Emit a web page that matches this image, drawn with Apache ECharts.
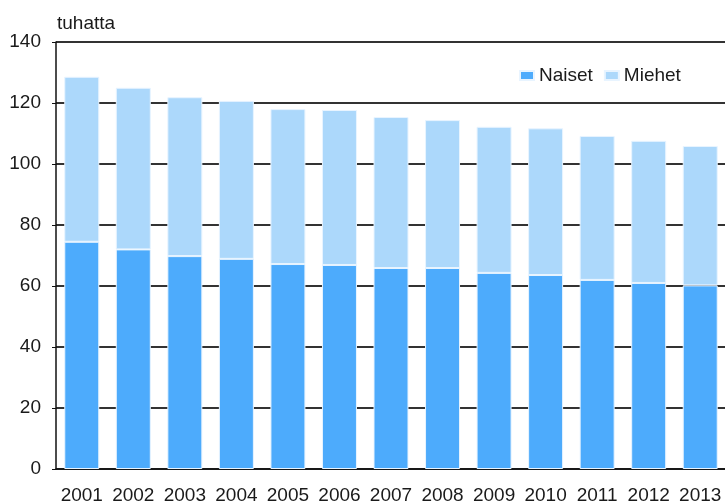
<!DOCTYPE html>
<html>
<head>
<meta charset="utf-8">
<script src="https://cdn.jsdelivr.net/npm/echarts@6/dist/echarts.min.js"></script>
<style>html,body{margin:0;padding:0;background:#fff}#c{width:725px;height:502px}</style>
</head>
<body>
<div id="c"></div>
<script>
const years = ['2001','2002','2003','2004','2005','2006','2007','2008','2009','2010','2011','2012','2013'];
const naiset = [74.5, 72.0, 69.8, 68.9, 67.2, 66.9, 65.9, 65.9, 64.3, 63.6, 62.0, 61.0, 60.2];
const miehet = [54.1, 53.0, 52.1, 51.8, 50.8, 50.8, 49.5, 48.5, 47.9, 48.1, 47.2, 46.6, 45.7];
const yTicks = [0, 20, 40, 60, 80, 100, 120, 140];
const unitLabel = 'tuhatta';

const font = "'Liberation Sans', Arial, sans-serif";
const fs = 19;
const chart = echarts.init(document.getElementById('c'), null, {renderer: 'canvas'});
chart.setOption({
  animation: false,
  backgroundColor: '#fff',
  textStyle: {fontFamily: font},
  grid: {left: 56, top: 42, width: 670, height: 427, containLabel: false, outerBoundsMode: 'none'},
  legend: {
    left: 519, top: 66, padding: 0,
    itemWidth: 14, itemHeight: 9, itemGap: 11,
    icon: 'rect',
    textStyle: {fontSize: fs, color: '#1a1a1a', fontFamily: font},
    data: ['Naiset', 'Miehet']
  },
  graphic: [{
    type: 'text', left: 57, top: 14,
    style: {text: unitLabel, fontSize: fs, fill: '#1a1a1a', fontFamily: font}
  }],
  xAxis: {
    type: 'category', data: years,
    axisLine: {lineStyle: {color: '#111', width: 1.5}},
    axisTick: {show: false},
    axisLabel: {fontSize: fs, color: '#1a1a1a', margin: 17, interval: 0, fontFamily: font}
  },
  yAxis: {
    type: 'value', min: yTicks[0], max: yTicks[yTicks.length - 1], interval: 20,
    axisLine: {show: true, lineStyle: {color: '#111', width: 1.5}},
    axisTick: {show: true, length: 4, lineStyle: {color: '#111'}},
    axisLabel: {fontSize: fs, color: '#1a1a1a', margin: 15, fontFamily: font},
    splitLine: {lineStyle: {color: '#333', width: 2}}
  },
  series: [
    {name: 'Naiset', type: 'bar', stack: 't', data: naiset, barWidth: 35,
     itemStyle: {color: '#4dabfc', borderColor: '#e8f4ff', borderWidth: 1}},
    {name: 'Miehet', type: 'bar', stack: 't', data: miehet, barWidth: 35,
     itemStyle: {color: '#acd8fb', borderColor: '#e8f4ff', borderWidth: 1}}
  ]
});
</script>
</body>
</html>
